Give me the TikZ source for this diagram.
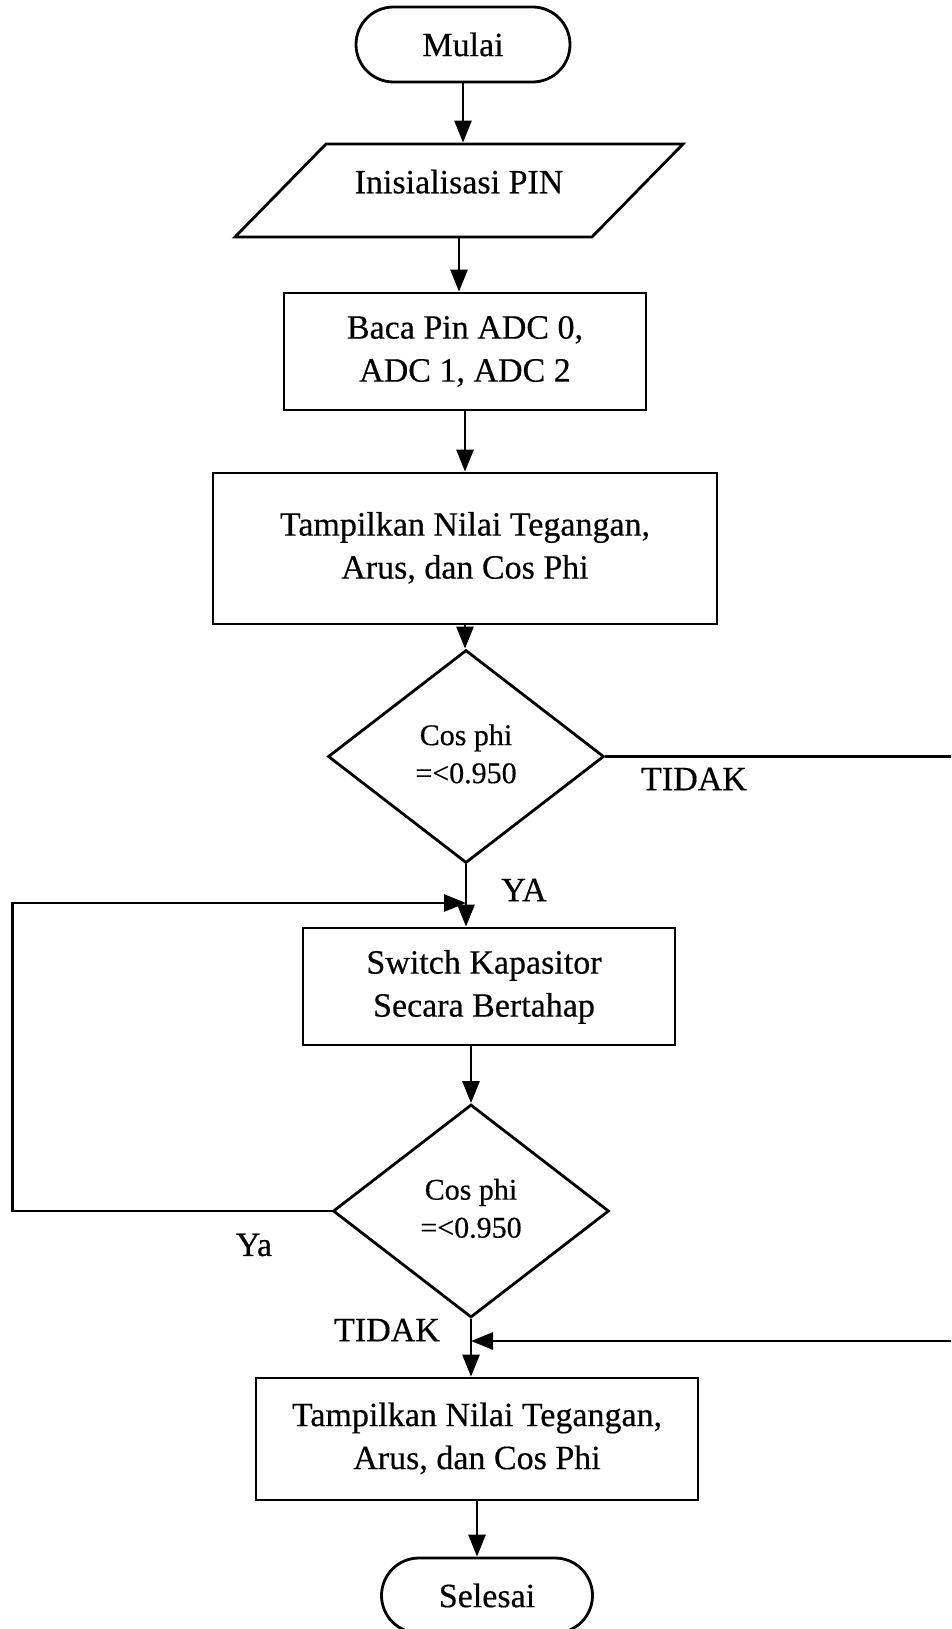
\documentclass[tikz,border=0pt]{standalone}
\usepackage{fontspec}
\setmainfont{Liberation Serif}[FakeBold=0.4]
\usetikzlibrary{shapes.geometric,shapes.misc,arrows.meta}

\begin{document}
\begin{tikzpicture}[x=1pt,y=-1pt,
  line width=2.8pt,
  every node/.style={font=\fontsize{34pt}{43pt}\selectfont},
  flow/.style={draw, line width=2.8pt, inner sep=0pt},
  terminal/.style={flow, rounded rectangle, minimum width=214pt, minimum height=75pt},
  process/.style={flow, rectangle},
  decision/.style={flow, diamond, minimum width=276pt, minimum height=213pt,
    font=\fontsize{30pt}{38pt}\selectfont},
  arrow/.style={-{Triangle[length=22pt,width=17pt]}, line width=2.8pt},
  lbl/.style={inner sep=0pt}
]
\path[use as bounding box] (0,0) rectangle (951,1629);
\clip (0,0) rectangle (951,1629);

% flowchart blocks
\node[terminal] (start) at (463,44.5) {\raisebox{-3pt}{Mulai}};
% input block: the text node carries the anchors, the slanted outline is drawn around it
\node[inner sep=0pt, minimum width=448pt, minimum height=93pt] (init) at (459,190.5)
  {\raisebox{18pt}{Inisialisasi PIN}};
\draw[line width=2.8pt, line join=miter] (235,237) -- (326,144) -- (683,144) -- (592,237) -- cycle;
\node[process, minimum width=362pt, minimum height=117pt] (read) at (465,351.5)
  {\begin{tabular}{@{}c@{}}Baca Pin ADC 0,\\ADC 1, ADC 2\end{tabular}};
\node[process, minimum width=504pt, minimum height=151pt] (show1) at (465,548.5)
  {\raisebox{4pt}{\begin{tabular}{@{}c@{}}Tampilkan Nilai Tegangan,\\Arus, dan Cos Phi\end{tabular}}};
\node[decision] (dec1) at (466,756.5)
  {\raisebox{8pt}{\begin{tabular}{@{}c@{}}Cos phi\\=<0.950\end{tabular}}};
\node[process, minimum width=372pt, minimum height=117pt] (switch) at (489,986.5)
  {\hspace*{-10pt}\raisebox{6pt}{\begin{tabular}{@{}c@{}}Switch Kapasitor\\Secara Bertahap\end{tabular}}};
\node[decision] (dec2) at (471,1211)
  {\raisebox{9pt}{\begin{tabular}{@{}c@{}}Cos phi\\=<0.950\end{tabular}}};
\node[process, minimum width=442pt, minimum height=122pt] (show2) at (477,1439)
  {\raisebox{6pt}{\begin{tabular}{@{}c@{}}Tampilkan Nilai Tegangan,\\Arus, dan Cos Phi\end{tabular}}};
\node[terminal, minimum width=211pt] (stop) at (487,1595.5) {\raisebox{-10pt}{Selesai}};

% branch labels
\node[lbl] (tidak1) at (694,779) {TIDAK};
\node[lbl] (ya1) at (524,890) {YA};
\node[lbl] (ya2) at (254,1245) {Ya};
\node[lbl] (tidak2) at (387,1330) {TIDAK};

% junction points on the vertical connectors
\coordinate (loopin) at (466,903);
\coordinate (joinin) at (471,1341);

% connectors
\draw[arrow] (start.south) -- (start.south |- init.north);
\draw[arrow] (init.south) -- (init.south |- read.north);
\draw[arrow] (read.south) -- (read.south |- show1.north);
\draw[arrow] (show1.south) -- (show1.south |- dec1.north);
\draw[arrow] (dec1.south) -- (dec1.south |- switch.north);
\draw[arrow] (switch.south -| dec2.north) -- (dec2.north);
\draw[arrow] (dec2.south) -- (dec2.south |- show2.north);
\draw[arrow] (show2.south) -- (show2.south |- stop.north);
\draw[arrow] (dec2.west) -- ++(-319,0) |- (loopin);
\draw[arrow] (dec1.east) -- ++(420,0) |- (joinin);
\end{tikzpicture}
\end{document}
